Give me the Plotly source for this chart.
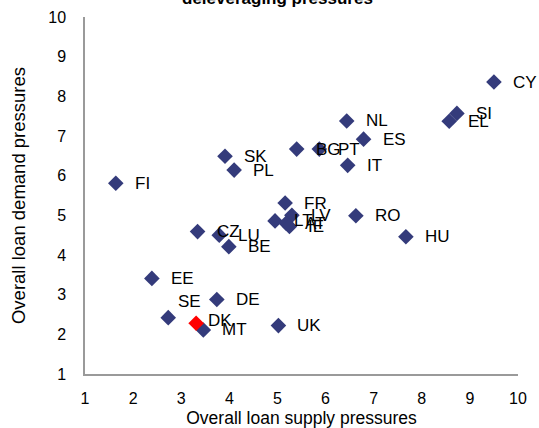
import plotly.graph_objects as go

countries = ["CY", "SI", "EL", "NL", "ES", "BG", "PT", "IT", "SK", "PL", "FI",
             "FR", "LV", "LT", "AT", "IE", "RO", "HU", "CZ", "LU", "BE",
             "EE", "DE", "SE", "MT", "UK", "DK"]
supply = [9.50, 8.73, 8.57, 6.44, 6.79, 5.40, 5.87, 6.46, 3.91, 4.10, 1.64,
          5.16, 5.30, 4.95, 5.18, 5.25, 6.63, 7.67, 3.34, 3.79, 3.99,
          2.39, 3.74, 2.73, 3.46, 5.02, 3.31]
demand = [8.36, 7.57, 7.37, 7.38, 6.92, 6.67, 6.67, 6.26, 6.49, 6.14, 5.81,
          5.31, 5.00, 4.86, 4.80, 4.72, 4.99, 4.46, 4.59, 4.50, 4.21,
          3.41, 2.88, 2.42, 2.11, 2.22, 2.28]
highlight = "DK"
title_text = "deleveraging pressures"

# label placement tweaks (pixels), default is to the right of the marker
label_shift = {"SE": (8, 16), "DK": (10, 3)}

navy = "#343B7B"
colors = ["#FF0000" if c == highlight else navy for c in countries]
FONT = "Liberation Sans, Arial"

fig = go.Figure()
fig.add_trace(go.Scatter(
    x=supply, y=demand, mode="markers",
    marker=dict(symbol="diamond", size=12, color=colors, line=dict(width=0)),
    hoverinfo="text", text=countries, showlegend=False,
))

for c, xv, yv in zip(countries, supply, demand):
    dx, dy = label_shift.get(c, (17, 0))
    fig.add_annotation(x=xv, y=yv, xref="x", yref="y", text=c, showarrow=False,
                       xanchor="left", yanchor="middle", xshift=dx, yshift=dy,
                       font=dict(family=FONT, size=17, color="black"))

# chart title, partly cut off at the top edge as in the original
fig.add_annotation(x=0.445, y=1, xref="paper", yref="paper", text="<b>" + title_text + "</b>",
                   showarrow=False, xanchor="center", yanchor="middle", yshift=19,
                   font=dict(family=FONT, size=17, color="black"))

axis_common = dict(
    range=[1, 10], dtick=1, showgrid=False, zeroline=False,
    showline=True, linecolor="#9A9A9A", linewidth=1.5, ticks="",
    automargin=False,
    tickfont=dict(family=FONT, size=16, color="black"),
)

fig.update_layout(
    width=539, height=428,
    margin=dict(l=85, r=21, t=17, b=54),
    paper_bgcolor="white", plot_bgcolor="white",
    xaxis=dict(**axis_common, ticklabelstandoff=9,
               title=dict(text="Overall loan supply pressures", standoff=6,
                          font=dict(family=FONT, size=17.5, color="black"))),
    yaxis=dict(**axis_common, ticklabelstandoff=14,
               title=dict(text="Overall loan demand pressures", standoff=18,
                          font=dict(family=FONT, size=18.5, color="black"))),
)

fig.write_html("out.html", config={"displayModeBar": False},
               post_script="document.body.style.margin='0';")
